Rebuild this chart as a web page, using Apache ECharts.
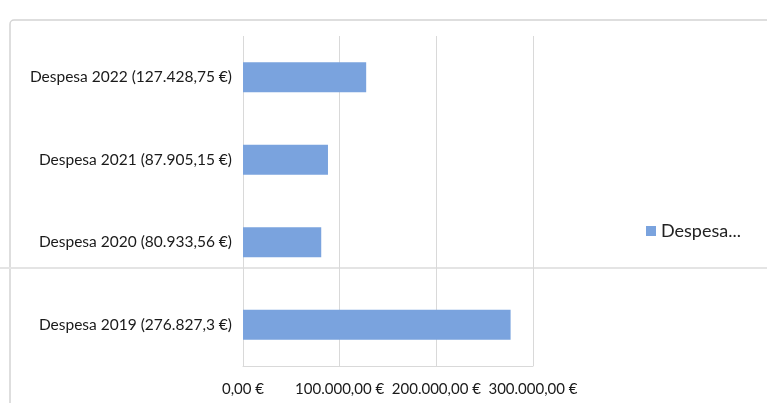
<!DOCTYPE html>
<html>
<head>
<meta charset="utf-8">
<script src="https://cdn.jsdelivr.net/npm/echarts@6/dist/echarts.min.js"></script>
<style>
  html, body { margin: 0; padding: 0; background: #fff; }
  #chart { width: 767px; height: 403px; }
</style>
</head>
<body>
<div id="chart"></div>
<script>
// categorias (de baixo para cima)
var categories = [
  'Despesa 2019 (276.827,3 €)',
  'Despesa 2020 (80.933,56 €)',
  'Despesa 2021 (87.905,15 €)',
  'Despesa 2022 (127.428,75 €)'
]
var values = [276827.3, 80933.56, 87905.15, 127428.75]
var seriesName = 'Despesa...'

// formato 100.000,00 €
function fmtEuro(v) {
  var s = v.toFixed(2).split('.')
  var int = s[0].replace(/\B(?=(\d{3})+(?!\d))/g, '.')
  return int + ',' + s[1] + ' €'
}

var myChart = echarts.init(document.getElementById('chart'))

var option = {
  backgroundColor: '#ffffff',
  animation: false,
  textStyle: { fontFamily: 'Lato' },
  graphic: [
    // moldura do gráfico
    {
      type: 'rect',
      shape: { x: 10, y: 20, width: 800, height: 420, r: 4 },
      style: { fill: 'none', stroke: '#d4d4d4', lineWidth: 1.5 },
      z: -1
    },
    // dobra da digitalização
    {
      type: 'line',
      shape: { x1: 0, y1: 268, x2: 767, y2: 268 },
      style: { stroke: '#e4e4e4', lineWidth: 2 },
      z: -1
    }
  ],
  legend: {
    data: [seriesName],
    left: 641,
    top: 217,
    icon: 'rect',
    itemWidth: 10,
    itemHeight: 10,
    itemGap: 9,
    textStyle: { fontSize: 18, color: '#222', fontFamily: 'Lato' }
  },
  grid: { left: 243, right: 234, top: 36, bottom: 37, containLabel: false },
  xAxis: {
    type: 'value',
    min: 0,
    max: 300000,
    interval: 100000,
    axisLine: { show: true, lineStyle: { color: '#d9d9d9' } },
    axisTick: { show: false },
    splitLine: { show: true, lineStyle: { color: '#d9d9d9' } },
    axisLabel: {
      formatter: fmtEuro,
      color: '#1a1a1a',
      fontSize: 15,
      margin: 16,
      hideOverlap: false
    }
  },
  yAxis: {
    type: 'category',
    data: categories,
    axisLine: { show: false },
    axisTick: { show: false },
    axisLabel: { color: '#1a1a1a', fontSize: 15.5, margin: 11, fontFamily: 'Lato' }
  },
  series: [{
    name: seriesName,
    type: 'bar',
    data: values,
    barWidth: 30,
    itemStyle: { color: '#7aa3de' }
  }]
}

myChart.setOption(option)
</script>
</body>
</html>
